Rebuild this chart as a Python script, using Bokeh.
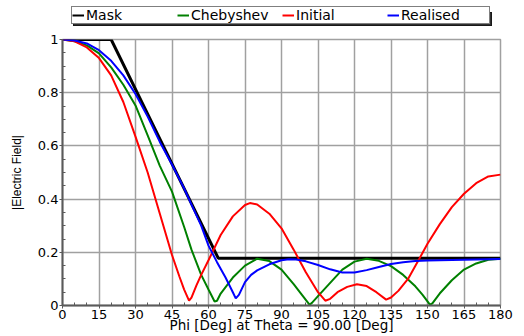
from bokeh.plotting import figure
from bokeh.models import (Range1d, FixedTicker, CustomJSTickFormatter,
                          Legend, LegendItem)
from bokeh.layouts import column
from bokeh.embed import file_html
from bokeh.resources import INLINE

# ---------------- data ----------------
x_ticks = [0, 15, 30, 45, 60, 75, 90, 105, 120, 135, 150, 165, 180]
x_minor = [5, 10, 20, 25, 35, 40, 50, 55, 65, 70, 80, 85, 95, 100, 110, 115,
           125, 130, 140, 145, 155, 160, 170, 175]
y_ticks = [0, 0.2, 0.4, 0.6, 0.8, 1.0]
y_minor = [0.05, 0.1, 0.15, 0.25, 0.3, 0.35, 0.45, 0.5, 0.55, 0.65, 0.7, 0.75,
           0.85, 0.9, 0.95]

phi_mask = [0, 20, 64, 180]
mask = [1.0, 1.0, 0.178, 0.178]

phi_cheb = [0, 5, 10, 15, 20, 25, 30, 35, 40, 45, 50, 53, 57, 60, 62.5, 63.5,
            65, 70, 75, 80, 85, 90, 95, 98, 101.5, 102.5, 105, 110, 115, 120,
            125, 130, 135, 140, 145, 148, 151, 152, 155, 160, 165, 170, 175, 180]
cheb = [1.0, 0.993, 0.978, 0.948, 0.895, 0.83, 0.752, 0.64, 0.525, 0.428, 0.295,
        0.21, 0.115, 0.06, 0.015, 0.018, 0.045, 0.105, 0.15, 0.176, 0.167, 0.135,
        0.08, 0.045, 0.003, 0.01, 0.035, 0.085, 0.135, 0.165, 0.176, 0.168, 0.148,
        0.115, 0.072, 0.04, 0.003, 0.008, 0.045, 0.095, 0.135, 0.158, 0.172, 0.176]

phi_init = [0, 5, 10, 15, 20, 25, 30, 35, 40, 45, 48, 50, 52, 53, 55, 57, 60,
            65, 70, 75, 77, 80, 85, 90, 95, 100, 105, 108, 110, 113, 117, 121,
            125, 129, 133, 135, 138, 142, 146, 150, 155, 160, 165, 170, 175, 180]
init = [1.0, 0.993, 0.97, 0.93, 0.865, 0.765, 0.635, 0.50, 0.345, 0.19, 0.11,
        0.06, 0.018, 0.03, 0.075, 0.115, 0.17, 0.265, 0.335, 0.378, 0.385, 0.38,
        0.345, 0.29, 0.21, 0.125, 0.05, 0.018, 0.025, 0.05, 0.07, 0.08, 0.073,
        0.05, 0.022, 0.03, 0.055, 0.10, 0.165, 0.232, 0.305, 0.37, 0.42, 0.46,
        0.485, 0.492]

phi_real = [0, 5, 10, 15, 20, 25, 30, 35, 40, 45, 50, 55, 57, 60, 63.5, 67, 70,
            71.2, 72.5, 75, 77.5, 80, 85, 90, 93, 96, 100, 105, 110, 115, 120,
            125, 130, 135, 140, 145, 150, 155, 160, 165, 170, 175, 180]
real = [1.0, 0.996, 0.985, 0.96, 0.92, 0.865, 0.795, 0.71, 0.615, 0.53, 0.44,
        0.34, 0.30, 0.225, 0.163, 0.105, 0.05, 0.027, 0.04, 0.088, 0.115, 0.132,
        0.155, 0.17, 0.174, 0.173, 0.166, 0.152, 0.136, 0.124, 0.124, 0.133,
        0.145, 0.156, 0.163, 0.167, 0.169, 0.17, 0.171, 0.172, 0.173, 0.174, 0.175]

names = ["Mask", "Chebyshev", "Initial", "Realised"]
colors = ["#000000", "#008000", "#ff0000", "#0000ff"]
widths = [3, 2, 2, 2]
series = [(phi_mask, mask), (phi_cheb, cheb), (phi_init, init), (phi_real, real)]
x_title = "Phi [Deg] at Theta = 90.00 [Deg]"
y_title = "|Electric Field|"

# ---------------- legend strip (top) ----------------
# same series, drawn against a y-range that keeps them out of view;
# they only serve as the legend's glyph sources
top = figure(width=524, height=31, output_backend="svg", toolbar_location=None,
             x_axis_type=None, y_axis_type=None, min_border=0,
             x_range=Range1d(0, 180), y_range=Range1d(5, 6))
top.outline_line_color = None
top.xgrid.visible = False
top.ygrid.visible = False
proxies = [top.line(xs, ys, line_color=c, line_width=2)
           for (xs, ys), c in zip(series, colors)]


def make_legend(loc, bg, labels):
    lg = Legend(items=[LegendItem(label=n, renderers=[r]) for n, r in zip(labels, proxies)],
                location=loc, orientation="horizontal")
    lg.background_fill_color = bg
    lg.background_fill_alpha = 1.0
    lg.border_line_color = "#000000"
    lg.border_line_width = 1
    lg.label_text_font = "DejaVu Sans"
    lg.label_text_font_size = "14px"
    lg.label_text_color = "#000000"
    lg.label_width = 88
    lg.label_height = 12
    lg.glyph_width = 12
    lg.glyph_height = 12
    lg.label_standoff = 2
    lg.spacing = 3
    lg.padding = 0
    lg.margin = 0
    return lg


# drop shadow (blank labels, offset by 2 px) under the real legend
top.add_layout(make_legend((11, 5), "#303030", [" "] * len(names)))
top.add_layout(make_legend((9, 7), "#ffffff", names))

# ---------------- main plot ----------------
p = figure(width=524, height=305, output_backend="svg", toolbar_location=None,
           x_range=Range1d(0, 180), y_range=Range1d(0, 1),
           min_border_left=62, min_border_right=24, min_border_top=8,
           min_border_bottom=31)
p.background_fill_color = "white"
p.border_fill_color = "white"
p.outline_line_color = "#a0a0a0"
p.outline_line_width = 1.5

for ax, ticks, minor in ((p.xaxis[0], x_ticks, x_minor), (p.yaxis[0], y_ticks, y_minor)):
    ax.ticker = FixedTicker(ticks=ticks, minor_ticks=minor)
    ax.axis_line_color = "#5a5a5a"
    ax.axis_line_width = 2
    ax.major_tick_line_color = "#5a5a5a"
    ax.minor_tick_line_color = "#5a5a5a"
    ax.major_tick_out = 3
    ax.major_tick_in = 0
    ax.minor_tick_out = 0
    ax.minor_tick_in = 3
    ax.major_label_text_font = "DejaVu Sans"
    ax.major_label_text_font_size = "13px"
    ax.major_label_text_color = "#000000"
    ax.major_label_standoff = 1

p.yaxis[0].formatter = CustomJSTickFormatter(
    code="return (tick == 0 || tick == 1) ? tick.toFixed(0) : tick.toFixed(1);")

p.xaxis[0].axis_label = x_title
p.xaxis[0].axis_label_text_font = "DejaVu Sans"
p.xaxis[0].axis_label_text_font_size = "13.5px"
p.xaxis[0].axis_label_text_font_style = "normal"
p.xaxis[0].axis_label_text_color = "#000000"
p.xaxis[0].axis_label_standoff = -5

p.yaxis[0].axis_label = y_title
p.yaxis[0].axis_label_text_font = "Liberation Sans"
p.yaxis[0].axis_label_text_font_size = "12px"
p.yaxis[0].axis_label_text_font_style = "normal"
p.yaxis[0].axis_label_text_color = "#000000"
p.yaxis[0].axis_label_standoff = 11

p.xgrid[0].ticker = FixedTicker(ticks=x_ticks)
p.ygrid[0].ticker = FixedTicker(ticks=y_ticks)
for g in (p.xgrid[0], p.ygrid[0]):
    g.grid_line_color = "#a0a0a0"
    g.grid_line_width = 1.5

for (xs, ys), c, w in zip(series, colors, widths):
    p.line(xs, ys, line_color=c, line_width=w)

layout = column(top, p, spacing=0)
open("out.html", "w").write(file_html(layout, INLINE))
